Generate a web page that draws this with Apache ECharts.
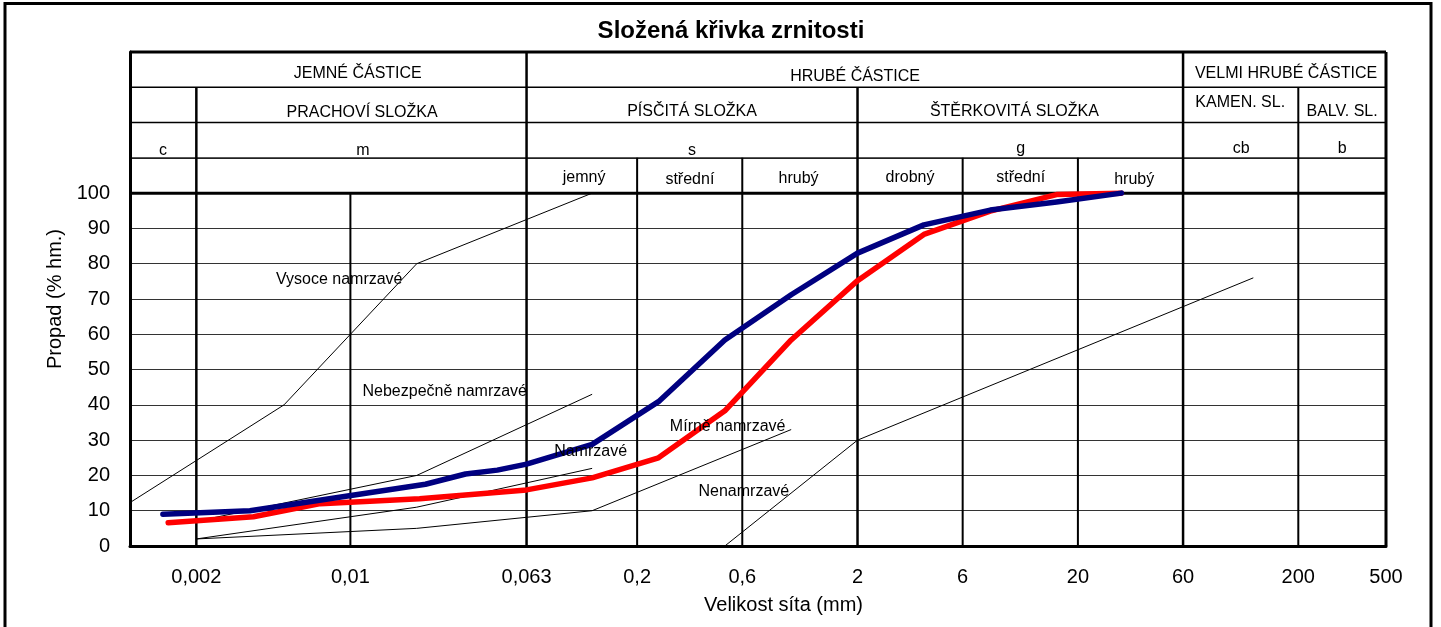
<!DOCTYPE html>
<html>
<head>
<meta charset="utf-8">
<title>Složená křivka zrnitosti</title>
<script src="https://cdn.jsdelivr.net/npm/echarts@6/dist/echarts.min.js"></script>
<style>
  html, body { margin: 0; padding: 0; background: #fff; }
  #main { width: 1441px; height: 627px; }
</style>
</head>
<body>
<div id="main"></div>
<script>
const FONT = '"Liberation Sans", Arial, sans-serif';

// sieve size (mm) / passing (%)
const blueSample = [
  [0.00141, 9.0], [0.0035, 10.0], [0.0219, 17.5], [0.0333, 20.4], [0.0464, 21.5],
  [0.063, 23.2], [0.125, 28.8], [0.25, 40.9], [0.5, 58.4], [1, 71.2], [2, 83.0],
  [4, 91.0], [8, 95.2], [16, 97.5], [31.5, 100]
];
const redSample = [
  [0.00149, 6.6], [0.00363, 8.3], [0.0073, 12.0], [0.0206, 13.4], [0.063, 15.9],
  [0.125, 19.3], [0.25, 25.0], [0.5, 38.3], [1, 58.4], [2, 75.2], [4, 88.3],
  [8, 94.9], [16, 99.6], [31.5, 100]
];

// frost susceptibility boundaries
const boundaryHigh = [[0.001, 12.3], [0.005, 40], [0.01, 60], [0.02, 80], [0.125, 100]];
const boundaryDanger = [[0.002, 7], [0.02, 20], [0.125, 43]];
const boundaryFrost = [[0.002, 2], [0.02, 11], [0.125, 22]];
const boundaryMild = [[0.002, 2], [0.02, 5], [0.125, 10], [1, 33]];
const boundaryNone = [[0.5, 0], [2, 30], [125, 76]];

const zoneLabels = [
  ['Vysoce namrzavé', 0.0089, 75.4],
  ['Nebezpečně namrzavé', 0.0268, 43.7],
  ['Namrzavé', 0.123, 26.7],
  ['Mírně namrzavé', 0.515, 33.8],
  ['Nenamrzavé', 0.61, 15.4]
];

const xTicks = [0.002, 0.01, 0.063, 0.2, 0.6, 2, 6, 20, 60, 200, 500];
const xTickLabels = ['0,002', '0,01', '0,063', '0,2', '0,6', '2', '6', '20', '60', '200', '500'];

// header table: column dividers [x, top, width], row dividers [y, width]
const headerColumns = [
  [0.002, 130, 2.5], [0.01, 100, 2], [0.063, 140, 2.5], [0.2, 110, 2], [0.6, 110, 2],
  [2, 130, 2.5], [6, 110, 2], [20, 110, 2], [60, 140, 2.5], [200, 130, 2], [500, 140, 3]
];
const headerRows = [[100, 3], [110, 1], [120, 1.5], [130, 1.5], [140, 3]];

const headerLabels = [
  ['JEMNÉ ČÁSTICE', 0.0108, 134], ['HRUBÉ ČÁSTICE', 1.95, 133], ['VELMI HRUBÉ ČÁSTICE', 176, 134],
  ['PRACHOVÍ SLOŽKA', 0.0113, 122.7], ['PÍSČITÁ SLOŽKA', 0.355, 123.2],
  ['ŠTĚRKOVITÁ SLOŽKA', 10.3, 123], ['KAMEN. SL.', 109, 125.8], ['BALV. SL.', 316, 123],
  ['c', 0.00141, 112.2], ['m', 0.0114, 112.2], ['s', 0.355, 112.2],
  ['g', 11, 112.7], ['cb', 110, 112.7], ['b', 316, 112.7],
  ['jemný', 0.115, 104.5], ['střední', 0.347, 103.7], ['hrubý', 1.08, 104.2],
  ['drobný', 3.46, 104.5], ['střední', 11, 104.5], ['hrubý', 36, 103.7]
];

const X_MIN = 0.001;
const X_MAX = 500;

const segments = headerColumns.map((c) => [c[0], 0, c[0], c[1], c[2]])
  .concat(headerRows.map((r) => [X_MIN, r[0], X_MAX, r[0], r[1]]));

function renderSegment(params, api) {
  const a = api.coord([api.value(0), api.value(1)]);
  const b = api.coord([api.value(2), api.value(3)]);
  return {
    type: 'line',
    shape: { x1: a[0], y1: a[1], x2: b[0], y2: b[1] },
    style: { stroke: '#000', lineWidth: api.value(4) }
  };
}

function textSeries(items, fontSize) {
  return {
    type: 'custom',
    silent: true,
    z: 6,
    data: items.map((d) => [d[1], d[2]]),
    renderItem(params, api) {
      const p = api.coord([api.value(0), api.value(1)]);
      return {
        type: 'text',
        x: p[0],
        y: p[1],
        style: {
          text: items[params.dataIndex][0],
          fill: '#000',
          font: fontSize + 'px ' + FONT,
          align: 'center',
          verticalAlign: 'middle'
        }
      };
    }
  };
}

function boundary(data) {
  return {
    type: 'line',
    data: data,
    symbol: 'none',
    silent: true,
    z: 3,
    lineStyle: { color: '#000', width: 1 }
  };
}

const chart = echarts.init(document.getElementById('main'), null, { renderer: 'canvas' });

chart.setOption({
  animation: false,
  backgroundColor: '#fff',
  title: {
    text: 'Složená křivka zrnitosti',
    left: 731,
    top: 19,
    textAlign: 'center',
    padding: 0,
    textStyle: { fontSize: 24, fontWeight: 'bold', color: '#000', fontFamily: FONT }
  },
  graphic: [{
    type: 'rect',
    silent: true,
    z: 100,
    shape: { x: 5, y: 3.5, width: 1426, height: 660 },
    style: { fill: null, stroke: '#000', lineWidth: 3 }
  }],
  grid: { left: 130, right: 55, top: 52, bottom: 81 },
  xAxis: [{
    type: 'log',
    logBase: 10,
    min: X_MIN,
    max: X_MAX,
    axisLine: { show: true, onZero: false, lineStyle: { color: '#000', width: 3 } },
    axisTick: { show: false },
    axisLabel: { show: false },
    splitLine: { show: false },
    name: 'Velikost síta (mm)',
    nameLocation: 'middle',
    nameGap: 49,
    nameTextStyle: { fontSize: 20, color: '#000', fontFamily: FONT, padding: [0, 0, 0, 51] }
  }, {
    type: 'value',
    position: 'bottom',
    min: Math.log10(X_MIN),
    max: Math.log10(X_MAX),
    axisLine: { show: false, onZero: false },
    axisTick: { show: false },
    splitLine: { show: false },
    axisLabel: {
      customValues: xTicks.map((v) => Math.log10(v)),
      margin: 21,
      fontSize: 20,
      color: '#000',
      fontFamily: FONT,
      formatter(v) {
        const i = xTicks.findIndex((t) => Math.abs(Math.log10(t) - v) < 1e-6);
        return i >= 0 ? xTickLabels[i] : '';
      }
    }
  }],
  yAxis: {
    type: 'value',
    min: 0,
    max: 140,
    interval: 10,
    axisLine: { show: true, onZero: false, lineStyle: { color: '#000', width: 3 } },
    axisTick: { show: false },
    axisLabel: {
      margin: 20,
      fontSize: 20,
      color: '#000',
      fontFamily: FONT,
      formatter: (v) => (v <= 100 ? String(v) : '')
    },
    splitLine: { show: true, lineStyle: { color: '#333', width: 1 } },
    name: 'Propad (% hm.)',
    nameLocation: 'middle',
    nameGap: 57,
    nameRotate: 90,
    nameTextStyle: { fontSize: 20, color: '#000', fontFamily: FONT }
  },
  series: [
    {
      type: 'custom',
      silent: true,
      z: 2,
      data: segments,
      encode: { x: [0, 2], y: [1, 3] },
      renderItem: renderSegment
    },
    boundary(boundaryHigh),
    boundary(boundaryDanger),
    boundary(boundaryFrost),
    boundary(boundaryMild),
    boundary(boundaryNone),
    {
      type: 'line',
      data: redSample,
      symbol: 'none',
      z: 4,
      lineStyle: { color: '#ff0000', width: 5.5, cap: 'round', join: 'round' }
    },
    {
      type: 'line',
      data: blueSample,
      symbol: 'none',
      z: 5,
      lineStyle: { color: '#000080', width: 5.5, cap: 'round', join: 'round' }
    },
    textSeries(headerLabels, 16),
    textSeries(zoneLabels, 16)
  ]
});
</script>
</body>
</html>
